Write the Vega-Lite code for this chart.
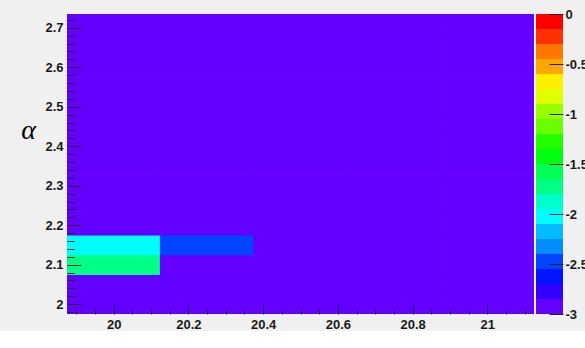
{
  "$schema": "https://vega.github.io/schema/vega-lite/v6.json",
  "background": "#f0f0f0",
  "padding": {"left": 20, "top": -2, "right": 0, "bottom": 0},
  "bounds": "flush",
  "spacing": 2,
  "datasets": {
    "cells": [
      {"x1": 19.875, "x2": 20.125, "y1": 1.975, "y2": 2.025, "z": -3},
      {"x1": 19.875, "x2": 20.125, "y1": 2.025, "y2": 2.075, "z": -3},
      {"x1": 19.875, "x2": 20.125, "y1": 2.075, "y2": 2.125, "z": -1.7},
      {"x1": 19.875, "x2": 20.125, "y1": 2.125, "y2": 2.175, "z": -2.0},
      {"x1": 19.875, "x2": 20.125, "y1": 2.175, "y2": 2.225, "z": -3},
      {"x1": 19.875, "x2": 20.125, "y1": 2.225, "y2": 2.275, "z": -3},
      {"x1": 19.875, "x2": 20.125, "y1": 2.275, "y2": 2.325, "z": -3},
      {"x1": 19.875, "x2": 20.125, "y1": 2.325, "y2": 2.375, "z": -3},
      {"x1": 19.875, "x2": 20.125, "y1": 2.375, "y2": 2.425, "z": -3},
      {"x1": 19.875, "x2": 20.125, "y1": 2.425, "y2": 2.475, "z": -3},
      {"x1": 19.875, "x2": 20.125, "y1": 2.475, "y2": 2.525, "z": -3},
      {"x1": 19.875, "x2": 20.125, "y1": 2.525, "y2": 2.575, "z": -3},
      {"x1": 19.875, "x2": 20.125, "y1": 2.575, "y2": 2.625, "z": -3},
      {"x1": 19.875, "x2": 20.125, "y1": 2.625, "y2": 2.675, "z": -3},
      {"x1": 19.875, "x2": 20.125, "y1": 2.675, "y2": 2.725, "z": -3},
      {"x1": 19.875, "x2": 20.125, "y1": 2.725, "y2": 2.775, "z": -3},
      {"x1": 20.125, "x2": 20.375, "y1": 1.975, "y2": 2.025, "z": -3},
      {"x1": 20.125, "x2": 20.375, "y1": 2.025, "y2": 2.075, "z": -3},
      {"x1": 20.125, "x2": 20.375, "y1": 2.075, "y2": 2.125, "z": -3},
      {"x1": 20.125, "x2": 20.375, "y1": 2.125, "y2": 2.175, "z": -2.5},
      {"x1": 20.125, "x2": 20.375, "y1": 2.175, "y2": 2.225, "z": -3},
      {"x1": 20.125, "x2": 20.375, "y1": 2.225, "y2": 2.275, "z": -3},
      {"x1": 20.125, "x2": 20.375, "y1": 2.275, "y2": 2.325, "z": -3},
      {"x1": 20.125, "x2": 20.375, "y1": 2.325, "y2": 2.375, "z": -3},
      {"x1": 20.125, "x2": 20.375, "y1": 2.375, "y2": 2.425, "z": -3},
      {"x1": 20.125, "x2": 20.375, "y1": 2.425, "y2": 2.475, "z": -3},
      {"x1": 20.125, "x2": 20.375, "y1": 2.475, "y2": 2.525, "z": -3},
      {"x1": 20.125, "x2": 20.375, "y1": 2.525, "y2": 2.575, "z": -3},
      {"x1": 20.125, "x2": 20.375, "y1": 2.575, "y2": 2.625, "z": -3},
      {"x1": 20.125, "x2": 20.375, "y1": 2.625, "y2": 2.675, "z": -3},
      {"x1": 20.125, "x2": 20.375, "y1": 2.675, "y2": 2.725, "z": -3},
      {"x1": 20.125, "x2": 20.375, "y1": 2.725, "y2": 2.775, "z": -3},
      {"x1": 20.375, "x2": 20.625, "y1": 1.975, "y2": 2.025, "z": -3},
      {"x1": 20.375, "x2": 20.625, "y1": 2.025, "y2": 2.075, "z": -3},
      {"x1": 20.375, "x2": 20.625, "y1": 2.075, "y2": 2.125, "z": -3},
      {"x1": 20.375, "x2": 20.625, "y1": 2.125, "y2": 2.175, "z": -3},
      {"x1": 20.375, "x2": 20.625, "y1": 2.175, "y2": 2.225, "z": -3},
      {"x1": 20.375, "x2": 20.625, "y1": 2.225, "y2": 2.275, "z": -3},
      {"x1": 20.375, "x2": 20.625, "y1": 2.275, "y2": 2.325, "z": -3},
      {"x1": 20.375, "x2": 20.625, "y1": 2.325, "y2": 2.375, "z": -3},
      {"x1": 20.375, "x2": 20.625, "y1": 2.375, "y2": 2.425, "z": -3},
      {"x1": 20.375, "x2": 20.625, "y1": 2.425, "y2": 2.475, "z": -3},
      {"x1": 20.375, "x2": 20.625, "y1": 2.475, "y2": 2.525, "z": -3},
      {"x1": 20.375, "x2": 20.625, "y1": 2.525, "y2": 2.575, "z": -3},
      {"x1": 20.375, "x2": 20.625, "y1": 2.575, "y2": 2.625, "z": -3},
      {"x1": 20.375, "x2": 20.625, "y1": 2.625, "y2": 2.675, "z": -3},
      {"x1": 20.375, "x2": 20.625, "y1": 2.675, "y2": 2.725, "z": -3},
      {"x1": 20.375, "x2": 20.625, "y1": 2.725, "y2": 2.775, "z": -3},
      {"x1": 20.625, "x2": 20.875, "y1": 1.975, "y2": 2.025, "z": -3},
      {"x1": 20.625, "x2": 20.875, "y1": 2.025, "y2": 2.075, "z": -3},
      {"x1": 20.625, "x2": 20.875, "y1": 2.075, "y2": 2.125, "z": -3},
      {"x1": 20.625, "x2": 20.875, "y1": 2.125, "y2": 2.175, "z": -3},
      {"x1": 20.625, "x2": 20.875, "y1": 2.175, "y2": 2.225, "z": -3},
      {"x1": 20.625, "x2": 20.875, "y1": 2.225, "y2": 2.275, "z": -3},
      {"x1": 20.625, "x2": 20.875, "y1": 2.275, "y2": 2.325, "z": -3},
      {"x1": 20.625, "x2": 20.875, "y1": 2.325, "y2": 2.375, "z": -3},
      {"x1": 20.625, "x2": 20.875, "y1": 2.375, "y2": 2.425, "z": -3},
      {"x1": 20.625, "x2": 20.875, "y1": 2.425, "y2": 2.475, "z": -3},
      {"x1": 20.625, "x2": 20.875, "y1": 2.475, "y2": 2.525, "z": -3},
      {"x1": 20.625, "x2": 20.875, "y1": 2.525, "y2": 2.575, "z": -3},
      {"x1": 20.625, "x2": 20.875, "y1": 2.575, "y2": 2.625, "z": -3},
      {"x1": 20.625, "x2": 20.875, "y1": 2.625, "y2": 2.675, "z": -3},
      {"x1": 20.625, "x2": 20.875, "y1": 2.675, "y2": 2.725, "z": -3},
      {"x1": 20.625, "x2": 20.875, "y1": 2.725, "y2": 2.775, "z": -3},
      {"x1": 20.875, "x2": 21.125, "y1": 1.975, "y2": 2.025, "z": -3},
      {"x1": 20.875, "x2": 21.125, "y1": 2.025, "y2": 2.075, "z": -3},
      {"x1": 20.875, "x2": 21.125, "y1": 2.075, "y2": 2.125, "z": -3},
      {"x1": 20.875, "x2": 21.125, "y1": 2.125, "y2": 2.175, "z": -3},
      {"x1": 20.875, "x2": 21.125, "y1": 2.175, "y2": 2.225, "z": -3},
      {"x1": 20.875, "x2": 21.125, "y1": 2.225, "y2": 2.275, "z": -3},
      {"x1": 20.875, "x2": 21.125, "y1": 2.275, "y2": 2.325, "z": -3},
      {"x1": 20.875, "x2": 21.125, "y1": 2.325, "y2": 2.375, "z": -3},
      {"x1": 20.875, "x2": 21.125, "y1": 2.375, "y2": 2.425, "z": -3},
      {"x1": 20.875, "x2": 21.125, "y1": 2.425, "y2": 2.475, "z": -3},
      {"x1": 20.875, "x2": 21.125, "y1": 2.475, "y2": 2.525, "z": -3},
      {"x1": 20.875, "x2": 21.125, "y1": 2.525, "y2": 2.575, "z": -3},
      {"x1": 20.875, "x2": 21.125, "y1": 2.575, "y2": 2.625, "z": -3},
      {"x1": 20.875, "x2": 21.125, "y1": 2.625, "y2": 2.675, "z": -3},
      {"x1": 20.875, "x2": 21.125, "y1": 2.675, "y2": 2.725, "z": -3},
      {"x1": 20.875, "x2": 21.125, "y1": 2.725, "y2": 2.775, "z": -3}
    ],
    "bar": [
      {"lo": -3, "hi": -2.85, "z": -2.925},
      {"lo": -2.85, "hi": -2.7, "z": -2.775},
      {"lo": -2.7, "hi": -2.55, "z": -2.625},
      {"lo": -2.55, "hi": -2.4, "z": -2.475},
      {"lo": -2.4, "hi": -2.25, "z": -2.325},
      {"lo": -2.25, "hi": -2.1, "z": -2.175},
      {"lo": -2.1, "hi": -1.95, "z": -2.025},
      {"lo": -1.95, "hi": -1.8, "z": -1.875},
      {"lo": -1.8, "hi": -1.65, "z": -1.725},
      {"lo": -1.65, "hi": -1.5, "z": -1.575},
      {"lo": -1.5, "hi": -1.35, "z": -1.425},
      {"lo": -1.35, "hi": -1.2, "z": -1.275},
      {"lo": -1.2, "hi": -1.05, "z": -1.125},
      {"lo": -1.05, "hi": -0.9, "z": -0.975},
      {"lo": -0.9, "hi": -0.75, "z": -0.825},
      {"lo": -0.75, "hi": -0.6, "z": -0.675},
      {"lo": -0.6, "hi": -0.45, "z": -0.525},
      {"lo": -0.45, "hi": -0.3, "z": -0.375},
      {"lo": -0.3, "hi": -0.15, "z": -0.225},
      {"lo": -0.15, "hi": 0, "z": -0.075}
    ]
  },
  "hconcat": [
    {
      "width": 467,
      "height": 300,
      "data": {"name": "cells"},
      "layer": [
        {
          "mark": {"type": "rect", "clip": true, "strokeWidth": 1},
          "encoding": {
            "x": {"field": "x1", "type": "quantitative", "scale": {"domain": [19.875, 21.125], "nice": false, "zero": false},
              "axis": {"orient": "bottom", "values": [20, 20.2, 20.4, 20.6, 20.8, 21], "ticks": false, "labelExpr": "toString(datum.value)", "labelPadding": 4, "labelBaseline": "top", "title": null}},
            "x2": {"field": "x2"},
            "y": {"field": "y1", "type": "quantitative", "scale": {"domain": [1.975, 2.735], "nice": false, "zero": false},
              "axis": {"orient": "left", "values": [2, 2.1, 2.2, 2.3, 2.4, 2.5, 2.6, 2.7], "ticks": false, "labelExpr": "toString(datum.value)", "labelPadding": 4, "labelBaseline": "middle",
                "title": "α", "titleAngle": 0, "titleFont": "Liberation Serif", "titleFontStyle": "italic", "titleFontWeight": "normal", "titleFontSize": 28, "titleColor": "#000000", "titleX": -39, "titleY": 116, "titleAlign": "center", "titleBaseline": "middle"}},
            "y2": {"field": "y2"},
            "color": {"field": "z", "type": "quantitative", "legend": null,
              "scale": {"type": "threshold",
                "domain": [-2.85, -2.7, -2.55, -2.4, -2.25, -2.1, -1.95, -1.8, -1.65, -1.5, -1.35, -1.2, -1.05, -0.9, -0.75, -0.6, -0.45, -0.3, -0.15],
                "range": ["#6300ff", "#3300ff", "#0014ff", "#0044ff", "#008bff", "#00bbff", "#00fffc", "#00ffcc", "#00ff85", "#00ff55", "#00ff0e", "#22ff00", "#69ff00", "#99ff00", "#e0ff00", "#ffee00", "#ffa700", "#ff7700", "#ff3000", "#ff0000"]}},
            "stroke": {"field": "z", "type": "quantitative", "legend": null,
              "scale": {"type": "threshold",
                "domain": [-2.85, -2.7, -2.55, -2.4, -2.25, -2.1, -1.95, -1.8, -1.65, -1.5, -1.35, -1.2, -1.05, -0.9, -0.75, -0.6, -0.45, -0.3, -0.15],
                "range": ["#6300ff", "#3300ff", "#0014ff", "#0044ff", "#008bff", "#00bbff", "#00fffc", "#00ffcc", "#00ff85", "#00ff55", "#00ff0e", "#22ff00", "#69ff00", "#99ff00", "#e0ff00", "#ffee00", "#ffa700", "#ff7700", "#ff3000", "#ff0000"]}}
          }
        },
        {
          "mark": {"type": "rect", "opacity": 0},
          "encoding": {
            "x": {"field": "x1", "type": "quantitative", "scale": {"domain": [19.875, 21.125], "nice": false, "zero": false},
              "axis": {"orient": "bottom", "values": [20, 20.2, 20.4, 20.6, 20.8, 21], "labels": false, "tickSize": -9, "title": null, "zindex": 2}},
            "x2": {"field": "x2"},
            "y": {"field": "y1", "type": "quantitative", "scale": {"domain": [1.975, 2.735], "nice": false, "zero": false},
              "axis": {"orient": "left", "values": [2, 2.1, 2.2, 2.3, 2.4, 2.5, 2.6, 2.7], "labels": false, "tickSize": -14, "title": null, "zindex": 2}},
            "y2": {"field": "y2"}
          }
        },
        {
          "mark": {"type": "rect", "opacity": 0},
          "encoding": {
            "x": {"field": "x1", "type": "quantitative", "scale": {"domain": [19.875, 21.125], "nice": false, "zero": false},
              "axis": {"orient": "bottom", "values": [19.9, 19.95, 20.05, 20.1, 20.15, 20.25, 20.3, 20.35, 20.45, 20.5, 20.55, 20.65, 20.7, 20.75, 20.85, 20.9, 20.95, 21.05, 21.1], "labels": false, "tickSize": -4.5, "title": null, "zindex": 2}},
            "x2": {"field": "x2"},
            "y": {"field": "y1", "type": "quantitative", "scale": {"domain": [1.975, 2.735], "nice": false, "zero": false},
              "axis": {"orient": "left", "values": [1.98, 2.02, 2.04, 2.06, 2.08, 2.12, 2.14, 2.16, 2.18, 2.22, 2.24, 2.26, 2.28, 2.32, 2.34, 2.36, 2.38, 2.42, 2.44, 2.46, 2.48, 2.52, 2.54, 2.56, 2.58, 2.62, 2.64, 2.66, 2.68, 2.72], "labels": false, "tickSize": -7, "title": null, "zindex": 2}},
            "y2": {"field": "y2"}
          }
        }
      ],
      "resolve": {"axis": {"x": "independent", "y": "independent"}}
    },
    {
      "width": 27,
      "height": 300,
      "data": {"name": "bar"},
      "mark": "rect",
      "encoding": {
        "y": {"field": "lo", "type": "quantitative", "scale": {"domain": [-3, 0], "nice": false, "zero": false},
          "axis": {"orient": "right", "values": [-3, -2.5, -2, -1.5, -1, -0.5, 0], "tickSize": -14, "labelPadding": 16, "labelExpr": "toString(datum.value)", "labelBaseline": "middle", "title": null, "zindex": 2}},
        "y2": {"field": "hi"},
        "color": {"field": "z", "type": "quantitative", "legend": null,
          "scale": {"type": "threshold",
            "domain": [-2.85, -2.7, -2.55, -2.4, -2.25, -2.1, -1.95, -1.8, -1.65, -1.5, -1.35, -1.2, -1.05, -0.9, -0.75, -0.6, -0.45, -0.3, -0.15],
            "range": ["#6300ff", "#3300ff", "#0014ff", "#0044ff", "#008bff", "#00bbff", "#00fffc", "#00ffcc", "#00ff85", "#00ff55", "#00ff0e", "#22ff00", "#69ff00", "#99ff00", "#e0ff00", "#ffee00", "#ffa700", "#ff7700", "#ff3000", "#ff0000"]}}
      }
    }
  ],
  "resolve": {"scale": {"x": "independent", "y": "independent", "color": "independent", "stroke": "independent"}},
  "config": {
    "view": {"stroke": null},
    "axis": {"grid": false, "domain": false, "tickColor": "#222222", "tickWidth": 1, "labelFont": "Liberation Sans", "labelFontWeight": "bold", "labelFontSize": 13, "labelColor": "#1a1a1a", "labelFlush": false, "labelOverlap": false, "labelBound": false}
  }
}
